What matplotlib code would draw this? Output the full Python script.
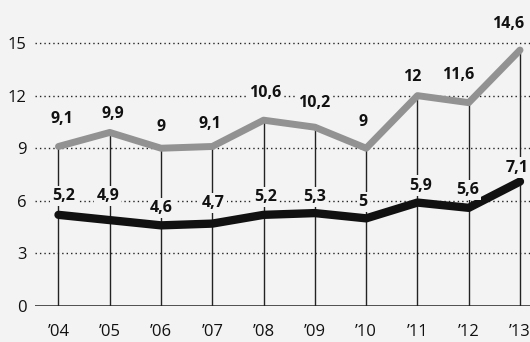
import matplotlib
matplotlib.use("Agg")
import matplotlib.pyplot as plt

# Data
years = ["’04", "’05", "’06", "’07", "’08", "’09", "’10", "’11", "’12", "’13"]
upper_series = [9.1, 9.9, 9.0, 9.1, 10.6, 10.2, 9.0, 12.0, 11.6, 14.6]
lower_series = [5.2, 4.9, 4.6, 4.7, 5.2, 5.3, 5.0, 5.9, 5.6, 7.1]
y_ticks = [0, 3, 6, 9, 12, 15]

# Label placement (pixel offsets from each point: dx, dy)
upper_offsets = [(3, 27), (3, 18), (0, 21), (-2, 22), (2, 27),
                 (-1, 24), (-3, 26), (-5, 19), (-11, 28), (-12, 26)]
lower_offsets = [(5, 19), (-2, 24), (0, 17), (1, 21), (2, 18),
                 (0, 16), (-3, 16), (3, 17), (-1, 18), (-3, 14)]

BG = "#f3f3f3"
plt.rcParams["font.family"] = ["Open Sans", "DejaVu Sans"]

W, H, DPI = 530, 342, 100
fig = plt.figure(figsize=(W / DPI, H / DPI), dpi=DPI, facecolor=BG)
ax = fig.add_axes([35 / W, 36 / H, (W - 35) / W, 306 / H], facecolor=BG)

x = list(range(len(years)))

# dotted horizontal guides
for v in y_ticks[1:]:
    ax.axhline(v, color="#222222", lw=1.0, ls=(0, (1, 2.2)), zorder=1)
ax.axhline(0, color="#333333", lw=1.2, zorder=1)

# drop lines from the upper series to the baseline
ax.vlines(x, 0, upper_series, color="#222222", lw=1.0, zorder=2)

ax.plot(x, upper_series, color="#929292", lw=5.0, solid_joinstyle="round",
        solid_capstyle="round", zorder=3)
ax.plot(x, lower_series, color="#111111", lw=6.0, solid_joinstyle="round",
        solid_capstyle="round", zorder=4)

px2pt = 72 / DPI
box = dict(facecolor=BG, edgecolor="none", pad=1.5)
for series, offsets in ((upper_series, upper_offsets), (lower_series, lower_offsets)):
    for xi, v, (dx, dy) in zip(x, series, offsets):
        ax.annotate(f"{v:g}".replace(".", ","), (xi, v),
                    xytext=(dx * px2pt, dy * px2pt), textcoords="offset points",
                    ha="center", va="center", fontsize=11.5, fontweight="bold",
                    color="#111111", bbox=box, zorder=5)

ax.set_xlim(-0.458, 9.195)
ax.set_ylim(0, 306 / 17.53)
ax.set_xticks(x)
ax.set_xticklabels(years)
ax.set_yticks(y_ticks)
ax.tick_params(length=0, labelsize=12, colors="#111111")
ax.tick_params(axis="x", pad=13)
ax.tick_params(axis="y", pad=6)
for s in ax.spines.values():
    s.set_visible(False)

fig.savefig("out.png", dpi=DPI, facecolor=BG)
